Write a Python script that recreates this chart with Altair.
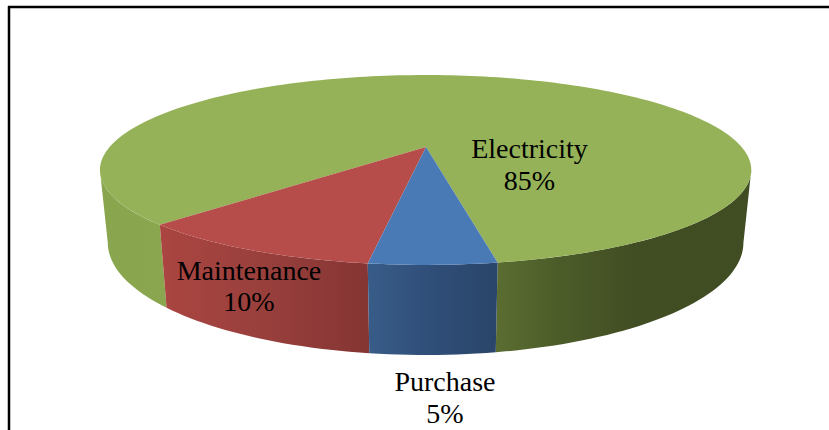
import math
import altair as alt
import pandas as pd

# Cost shares of the pie, in percent
categories = ["Purchase", "Maintenance", "Electricity"]
shares = [5, 10, 85]

# Top face colour per slice
top_colors = {"Purchase": "#4a7ab5", "Maintenance": "#b64d4a", "Electricity": "#95b258"}

W, H = 829, 430
START_DEG = -10.0      # where the first slice begins, measured from the front of the pie
SILHOUETTE_DEG = 76.0  # angle at which the rim meets the outline of the disc
CX = 425.6
APEX_X = 426.0

# Perspective planes of the disc: horizontal amplitude, vertical amplitude, centre height, depth factor
TOP = (316.0, 53.8, 147.0, -0.242)
BOTTOM = (308.5, 54.0, 215.8, -0.24)


def project(deg, plane):
    """Perspective view of a point on the pie's rim."""
    amp, a, b, c = plane
    u, v = math.sin(math.radians(deg)), math.cos(math.radians(deg))
    w = 1 + c * v
    return CX - amp * u / w, (a * v + b) / w


def arc(d0, d1, plane, step=1.5):
    n = max(2, int(abs(d1 - d0) / step) + 1)
    return [project(d0 + (d1 - d0) * i / n, plane) for i in range(n + 1)]


def frame(points):
    return pd.DataFrame(
        {"px": [p[0] for p in points], "py": [p[1] for p in points], "k": range(len(points))}
    )


def gradient(stops):
    return alt.Gradient(
        gradient="linear", x1=0, x2=1, y1=0, y2=0,
        stops=[alt.GradientStop(offset=o, color=c) for o, c in stops],
    )


xs = alt.X("px:Q", scale=alt.Scale(domain=[0, W], range=[0, W], nice=False, zero=False), axis=None)
ys = alt.Y("py:Q", scale=alt.Scale(domain=[0, H], range=[0, H], nice=False, zero=False), axis=None)


def shape(points, fill):
    return (
        alt.Chart(frame(points))
        .mark_line(filled=True, fill=fill, strokeWidth=0, interpolate="linear-closed")
        .encode(x=xs, y=ys, order="k:Q")
    )


# Slice boundaries in degrees, from the shares
bounds = {}
angle = START_DEG
for name, share in zip(categories, shares):
    bounds[name] = (angle, angle + share * 3.6)
    angle += share * 3.6

wall_fills = {
    "Purchase": gradient([(0, "#385c88"), (0.5, "#2f4e78"), (1, "#2a4569")]),
    "Maintenance": gradient([(0, "#ab4541"), (0.45, "#9a403d"), (1, "#853533")]),
    "ElectricityLeft": gradient([(0, "#89a54e"), (1, "#8aa74f")]),
    "ElectricityRight": gradient([(0, "#5b6d31"), (0.25, "#4c5c29"), (0.55, "#414d23"), (1, "#404c22")]),
}


def wall(d0, d1):
    return arc(d0, d1, TOP) + arc(d1, d0, BOTTOM)


e0, e1 = bounds["Electricity"]
layers = [
    shape(wall(e0, SILHOUETTE_DEG), wall_fills["ElectricityLeft"]),
    shape(wall(-SILHOUETTE_DEG, e1 - 360), wall_fills["ElectricityRight"]),
    shape(wall(*bounds["Maintenance"]), wall_fills["Maintenance"]),
    shape(wall(*bounds["Purchase"]), wall_fills["Purchase"]),
]

# Top faces of the slices, each a fan from the disc's centre
apex = (APEX_X, TOP[2])
for name in ["Electricity", "Maintenance", "Purchase"]:
    d0, d1 = bounds[name]
    layers.append(shape([apex] + arc(d0, d1, TOP), top_colors[name]))

# Slice labels: name on one line, share below it
label_anchor = {
    "Electricity": (529.5, 150, 182),
    "Maintenance": (249, 272, 303),
    "Purchase": (445, 383, 415),
}
rows = []
for name, share in zip(categories, shares):
    x, y1, y2 = label_anchor[name]
    rows.append({"px": x, "py": y1, "label": name})
    rows.append({"px": x, "py": y2, "label": f"{share}%"})

labels = (
    alt.Chart(pd.DataFrame(rows))
    .mark_text(font="Liberation Serif", fontSize=28, color="#000000", align="center", baseline="middle")
    .encode(x=xs, y=ys, text="label:N")
)
layers.append(labels)

# Outer chart frame: only the top and left edges fall inside the view
border_h = alt.Chart(pd.DataFrame({"a": [0]})).mark_rule(color="#000000", strokeWidth=2.5).encode(
    x=alt.value(8), x2=alt.value(W), y=alt.value(7)
)
border_v = alt.Chart(pd.DataFrame({"a": [0]})).mark_rule(color="#000000", strokeWidth=2.5).encode(
    x=alt.value(9), y=alt.value(6), y2=alt.value(H)
)
layers += [border_h, border_v]

chart = (
    alt.layer(*layers)
    .properties(width=W, height=H, padding=0, autosize=alt.AutoSizeParams(type="none"), background="#ffffff")
    .configure_view(strokeWidth=0)
)
chart.save("out.html", embed_options={"renderer": "svg", "actions": False})
